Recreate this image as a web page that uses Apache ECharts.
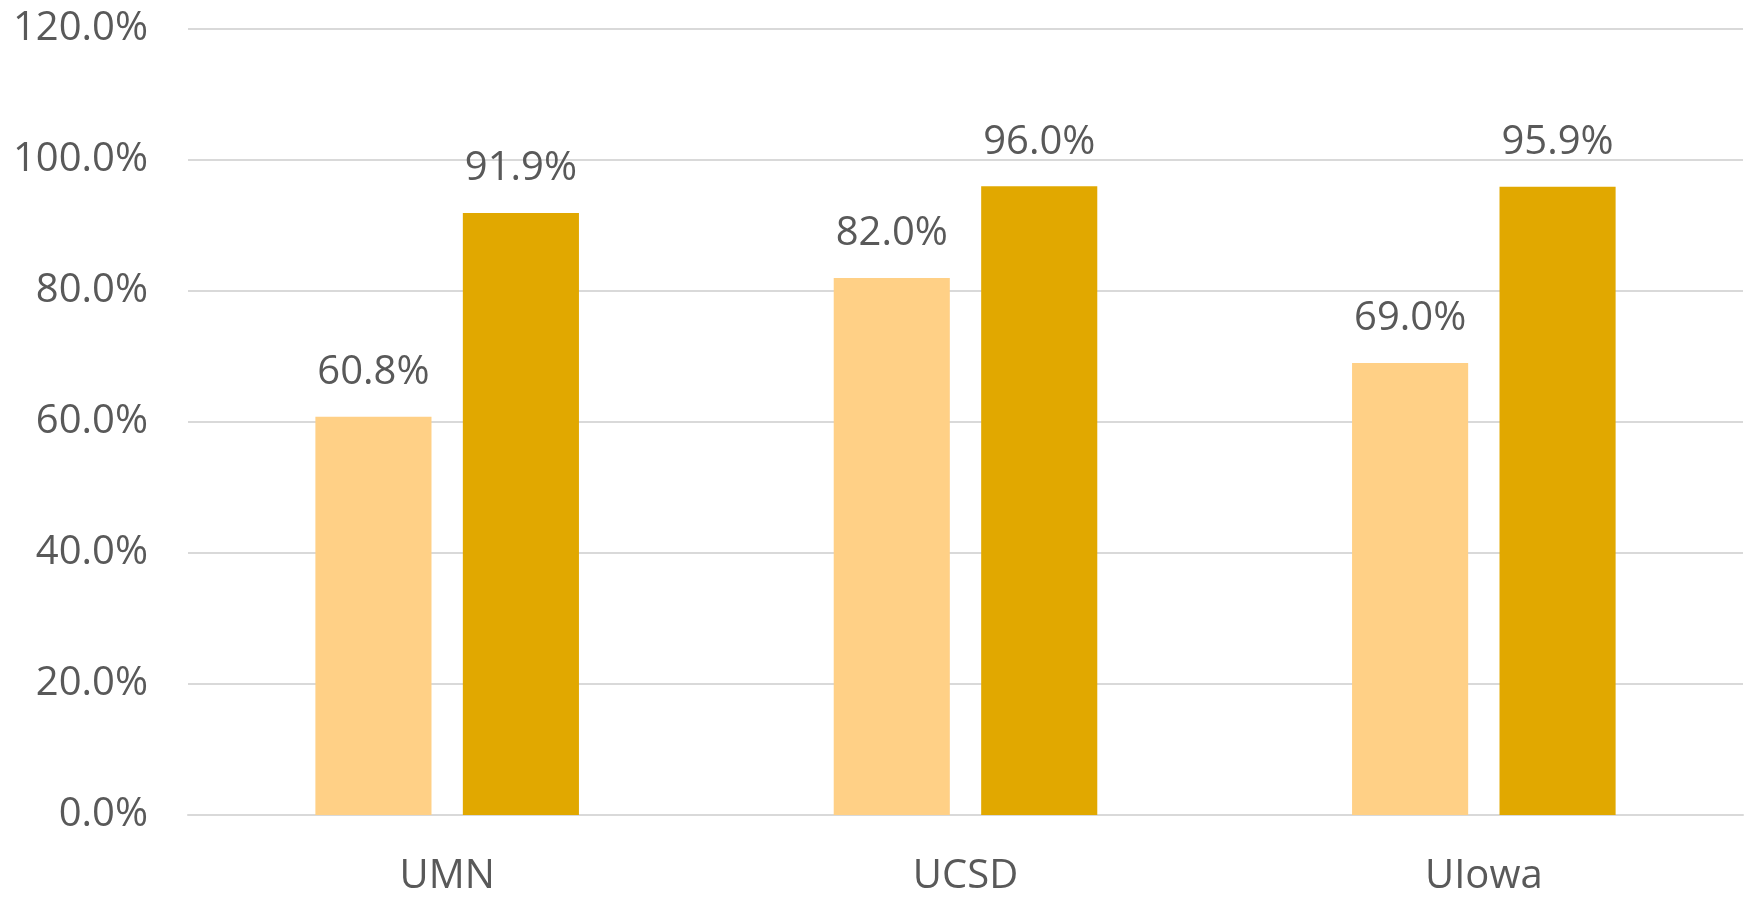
<!DOCTYPE html>
<html>
<head>
<meta charset="utf-8">
<script src="https://cdn.jsdelivr.net/npm/echarts@6/dist/echarts.min.js"></script>
<style>
    html, body { margin: 0; padding: 0; background: #fff; }
    #chart { width: 1750px; height: 897px; }
</style>
</head>
<body>
<div id="chart"></div>
<script>
const schools = ['UMN', 'UCSD', 'UIowa']
const firstValues = [60.8, 82.0, 69.0]
const secondValues = [91.9, 96.0, 95.9]
const yTicks = { min: 0, max: 120, step: 20 }

const fontFamily = '"Open Sans", "Noto Sans", sans-serif'
const textColor = '#595959'

function pct(v) {
    return v.toFixed(1) + '%'
}

function barSeries(data, color) {
    return {
        type: 'bar',
        data: data,
        barWidth: '22.4%',
        barGap: '27%',
        itemStyle: { color: color },
        label: {
            show: true,
            position: 'top',
            distance: 24,
            color: textColor,
            fontSize: 40,
            fontFamily: fontFamily,
            formatter: p => pct(p.value)
        }
    }
}

let chart = echarts.init(document.getElementById('chart'))
let option = {
    animation: false,
    grid: {
        left: 188,
        right: 7,
        top: 29,
        bottom: 81
    },
    xAxis: {
        type: 'category',
        data: schools,
        axisLine: { lineStyle: { color: '#d9d9d9', width: 2 } },
        axisTick: { show: false },
        axisLabel: {
            color: textColor,
            fontSize: 40,
            fontFamily: fontFamily,
            margin: 42
        }
    },
    yAxis: {
        type: 'value',
        min: yTicks.min,
        max: yTicks.max,
        interval: yTicks.step,
        axisLine: { show: false },
        axisTick: { show: false },
        splitLine: { lineStyle: { color: '#d9d9d9', width: 2 } },
        axisLabel: {
            color: textColor,
            fontSize: 40,
            fontFamily: fontFamily,
            margin: 40,
            formatter: v => pct(v)
        }
    },
    series: [
        barSeries(firstValues, '#FFD086'),
        barSeries(secondValues, '#E1A800')
    ]
}
chart.setOption(option)
</script>
</body>
</html>
